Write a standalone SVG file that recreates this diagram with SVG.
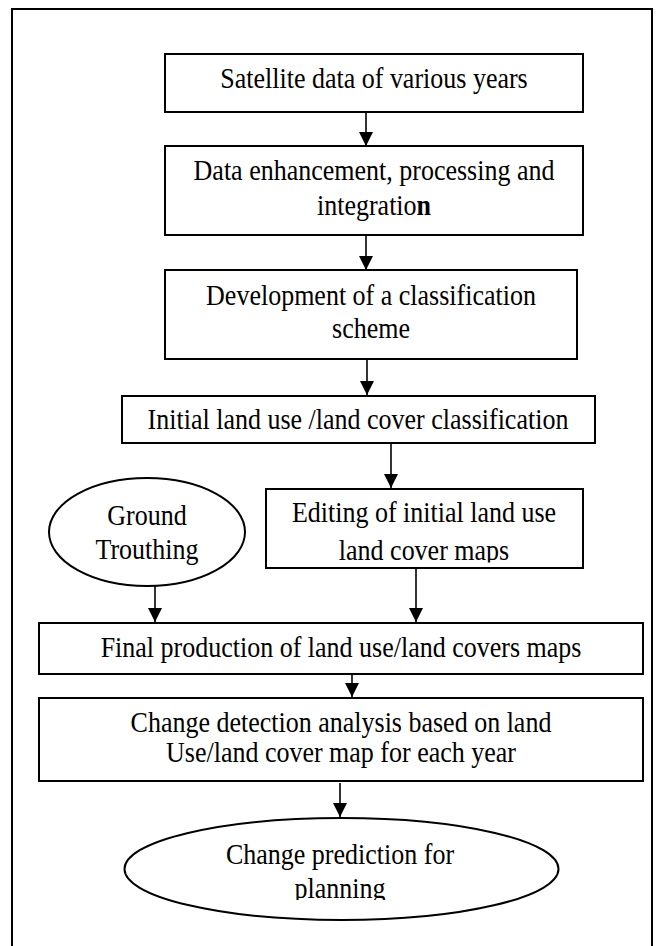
<svg xmlns="http://www.w3.org/2000/svg" width="657" height="946" viewBox="0 0 657 946">
<style>
.box{fill:#fff;stroke:#000;stroke-width:2}
.frame{fill:none;stroke:#000;stroke-width:2}
.con{stroke:#000;stroke-width:1.6;fill:none}
text{font-family:"Liberation Serif","Times New Roman",serif;font-size:26px;fill:#000;text-anchor:middle}
</style>
<defs>
<marker id="arr" markerUnits="userSpaceOnUse" markerWidth="14" markerHeight="14" refX="14" refY="7" orient="auto">
<path d="M0,0 L14,7 L0,14 z" fill="#000"/>
</marker>
<clipPath id="clip5"><rect x="266" y="489" width="317" height="73.5"/></clipPath>
<clipPath id="clipEnd"><rect x="100" y="817" width="480" height="83"/></clipPath>
</defs>
<rect id="frame" class="frame" x="12" y="9" width="640" height="960"/>
<g id="connectors">
<line class="con" x1="366" y1="112" x2="366" y2="146" marker-end="url(#arr)"/>
<line class="con" x1="366" y1="235" x2="366" y2="270" marker-end="url(#arr)"/>
<line class="con" x1="367" y1="359" x2="367" y2="395" marker-end="url(#arr)"/>
<line class="con" x1="391" y1="443" x2="391" y2="488" marker-end="url(#arr)"/>
<line class="con" x1="155" y1="586" x2="155" y2="622" marker-end="url(#arr)"/>
<line class="con" x1="416" y1="569" x2="416" y2="622" marker-end="url(#arr)"/>
<line class="con" x1="352" y1="674" x2="352" y2="697" marker-end="url(#arr)"/>
<line class="con" x1="340" y1="783" x2="340" y2="817" marker-end="url(#arr)"/>
</g>
<g id="n1">
<rect class="box" x="165" y="54" width="418" height="58"/>
<text transform="translate(374 88) scale(1 1.12)">Satellite data of various years</text>
</g>
<g id="n2">
<rect class="box" x="165" y="146" width="418" height="89"/>
<text transform="translate(374 180) scale(1 1.12)">Data enhancement, processing and</text>
<text transform="translate(374 215) scale(1 1.12)">integratio<tspan font-weight="bold">n</tspan></text>
</g>
<g id="n3">
<rect class="box" x="165" y="270" width="412" height="89"/>
<text transform="translate(371 305) scale(1 1.12)">Development of a classification</text>
<text transform="translate(371 338) scale(1 1.12)">scheme</text>
</g>
<g id="n4">
<rect class="box" x="122" y="396" width="473" height="47"/>
<text transform="translate(358 429) scale(1 1.12)">Initial land use /land cover classification</text>
</g>
<g id="n5">
<rect class="box" x="266" y="489" width="317" height="79"/>
<text transform="translate(424 522) scale(1 1.12)">Editing of initial land use</text>
<g clip-path="url(#clip5)"><text transform="translate(424 560) scale(1 1.12)">land cover maps</text></g>
</g>
<g id="n_ground">
<ellipse class="box" cx="147" cy="532" rx="98" ry="54"/>
<text transform="translate(147 525) scale(1 1.12)">Ground</text>
<text transform="translate(147 559) scale(1 1.12)">Trouthing</text>
</g>
<g id="n6">
<rect class="box" x="39" y="623" width="604" height="51"/>
<text transform="translate(341 657) scale(1 1.12)">Final production of land use/land covers maps</text>
</g>
<g id="n7">
<rect class="box" x="39" y="698" width="604" height="83"/>
<text transform="translate(341 732) scale(1 1.12)">Change detection analysis based on land</text>
<text transform="translate(341 762) scale(1 1.12)">Use/land cover map for each year</text>
</g>
<g id="n8">
<ellipse class="box" cx="341.5" cy="869" rx="217" ry="51"/>
<text transform="translate(340 864) scale(1 1.12)">Change prediction for</text>
<g clip-path="url(#clipEnd)"><text transform="translate(340 898) scale(1 1.12)">planning</text></g>
</g>
</svg>
